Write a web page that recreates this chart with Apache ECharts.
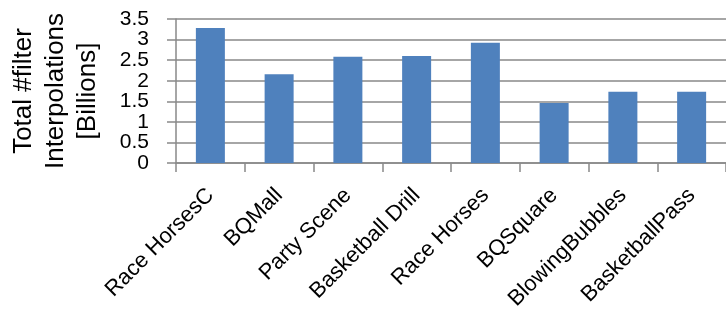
<!DOCTYPE html>
<html>
<head>
<meta charset="utf-8">
<script src="https://cdn.jsdelivr.net/npm/echarts@6/dist/echarts.min.js"></script>
<style>
  html, body { margin: 0; padding: 0; background: #fff; }
  #chart { width: 726px; height: 324px; }
</style>
</head>
<body>
<div id="chart"></div>
<script>
// Filter interpolation counts per test sequence (billions)
const sequences = ['Race HorsesC', 'BQMall', 'Party Scene', 'Basketball Drill',
                   'Race Horses', 'BQSquare', 'BlowingBubbles', 'BasketballPass'];
const interpolations = [3.28, 2.16, 2.58, 2.60, 2.92, 1.46, 1.73, 1.73];
const yTicks = [0, 0.5, 1, 1.5, 2, 2.5, 3, 3.5];

const FONT = 'Liberation Sans';
const GRID_GRAY = '#898989';
const yMin = yTicks[0];
const yMax = yTicks[yTicks.length - 1];
const yStep = yTicks[1] - yTicks[0];

// Tick values sit closer together than their text height, so they are split
// across two overlaid value axes (whole and half steps) to keep every one drawn.
const isWhole = v => Math.abs(v - Math.round(v)) < 1e-9;
const tickLabelStyle = {
  margin: 27,
  color: '#000',
  fontFamily: FONT,
  fontSize: 21,
  hideOverlap: false,
  showMinLabel: true,
  showMaxLabel: true
};

const chart = echarts.init(document.getElementById('chart'), null, { renderer: 'canvas' });
chart.setOption({
  animation: false,
  backgroundColor: '#ffffff',
  grid: { left: 175, right: -9, top: 19, bottom: 161, containLabel: false },
  xAxis: {
    type: 'category',
    data: sequences,
    boundaryGap: true,
    axisLine: { show: true, lineStyle: { color: GRID_GRAY, width: 1.5 } },
    axisTick: { show: true, length: 9, lineStyle: { color: GRID_GRAY, width: 1.5 } },
    axisLabel: {
      interval: 0,
      rotate: 45,
      margin: 29,
      hideOverlap: false,
      color: '#000',
      fontFamily: FONT,
      fontSize: 22
    },
    splitLine: { show: false }
  },
  yAxis: [{
    type: 'value',
    position: 'left',
    min: yMin,
    max: yMax,
    interval: yStep,
    name: 'Total #filter\nInterpolations\n[Billions]',
    nameLocation: 'middle',
    nameRotate: 90,
    nameGap: 72,
    nameTextStyle: {
      color: '#000',
      fontFamily: FONT,
      fontSize: 26,
      lineHeight: 32,
      align: 'center'
    },
    axisLine: { show: true, lineStyle: { color: GRID_GRAY, width: 1.5 } },
    axisTick: { show: true, length: 9, lineStyle: { color: GRID_GRAY, width: 1.5 } },
    axisLabel: Object.assign({}, tickLabelStyle, {
      formatter: v => (isWhole(v) ? String(v) : '')
    }),
    splitLine: { show: true, lineStyle: { color: GRID_GRAY, width: 1.5 } }
  }, {
    type: 'value',
    position: 'left',
    min: yMin,
    max: yMax,
    interval: yStep,
    axisLine: { show: false },
    axisTick: { show: false },
    splitLine: { show: false },
    axisLabel: Object.assign({}, tickLabelStyle, {
      formatter: v => (isWhole(v) ? '' : String(v))
    })
  }],
  series: [{
    type: 'bar',
    yAxisIndex: 0,
    data: interpolations,
    barWidth: 29,
    itemStyle: { color: '#4F81BD' }
  }]
});
</script>
</body>
</html>
